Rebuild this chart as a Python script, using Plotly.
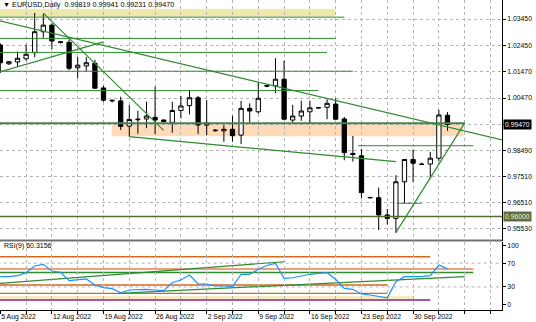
import plotly.graph_objects as go

# ---------------- data ----------------
bar_index = list(range(53))
opens = [1.0247, 1.0176, 1.0183, 1.0195, 1.0218, 1.0297, 1.0322, 1.0259, 1.0257, 1.0161,
         1.0168, 1.0178, 1.0085, 1.0036, 1.0036, 0.9941, 0.9965, 0.9968, 0.9974, 0.9964,
         0.9955, 1.0000, 1.0018, 1.0048, 0.9945, 0.9926, 0.9923, 0.9929, 0.9907, 1.0008,
         0.9995, 1.0094, 1.0093, 1.0118, 0.9964, 0.9979, 0.9995, 1.0010, 1.0012, 1.0024,
         0.9968, 0.9838, 0.9829, 0.9672, 0.9671, 0.9606, 0.9593, 0.9731, 0.9815, 0.9797,
         0.9798, 0.9820, 0.99819]
highs = [1.0253, 1.0187, 1.0222, 1.0248, 1.0368, 1.0364, 1.0329, 1.0262, 1.0268, 1.0202,
         1.0201, 1.0191, 1.0093, 1.0042, 1.0052, 1.0021, 0.9999, 1.0033, 1.0090, 0.9966,
         1.0033, 1.0055, 1.0077, 1.0055, 1.0039, 0.9930, 0.9945, 0.9980, 1.0036, 1.0027,
         1.0105, 1.0096, 1.0197, 1.0188, 1.0021, 1.0037, 1.0037, 1.0012, 1.0042, 1.0046,
         0.9976, 0.9904, 0.9855, 0.9674, 0.9709, 0.9628, 0.9756, 0.9816, 0.9853, 0.9803,
         0.9844, 1.0002, 0.99941]
lows = [1.0141, 1.0172, 1.0165, 1.0188, 1.0201, 1.0274, 1.0232, 1.0252, 1.0152, 1.0122,
        1.0149, 1.0081, 1.0033, 1.0030, 0.9926, 0.9901, 0.9912, 0.9933, 0.9911, 0.9955,
        0.9916, 0.9970, 0.9985, 0.9911, 0.9907, 0.9920, 0.9882, 0.9882, 0.9873, 0.9955,
        0.9988, 1.0088, 1.0065, 0.9966, 0.9955, 0.9961, 0.9952, 1.0008, 0.9967, 0.9965,
        0.9812, 0.9807, 0.9670, 0.9668, 0.9549, 0.9570, 0.9539, 0.9650, 0.9731, 0.9795,
        0.9742, 0.9808, 0.99231]
closes = [1.0180, 1.0184, 1.0197, 1.0212, 1.0297, 1.0322, 1.0262, 1.0257, 1.0159, 1.0171,
          1.0180, 1.0084, 1.0039, 1.0038, 0.9940, 0.9966, 0.9967, 0.9979, 0.9964, 0.9958,
          1.0000, 1.0017, 1.0048, 0.9945, 0.9953, 0.9924, 0.9929, 0.9905, 1.0008, 0.9998,
          1.0046, 1.0092, 1.0118, 0.9967, 0.9979, 0.9998, 1.0010, 1.0010, 1.0027, 0.9967,
          0.9841, 0.9834, 0.9690, 0.9671, 0.9606, 0.9593, 0.9731, 0.9815, 0.9801, 0.9797,
          0.9820, 0.9983, 0.99470]
rsi9 = [47.2, 47.2, 48.9, 54.0, 65.2, 68.0, 56.8, 54.6, 40.5, 41.7,
        43.4, 33.3, 28.8, 27.1, 20.3, 24.9, 26.0, 26.0, 24.9, 23.7,
        37.2, 41.7, 50.1, 35.0, 35.0, 31.6, 31.6, 30.4, 51.3, 51.3,
        59.7, 66.0, 69.7, 44.5, 45.5, 48.4, 51.3, 52.9, 54.0, 42.9,
        27.7, 26.0, 18.2, 16.5, 13.6, 11.9, 38.8, 47.2, 47.2, 47.2,
        48.9, 66.9, 60.3156]

date_tick_bars = [0, 6, 12, 18, 24, 30, 36, 42, 48]
date_tick_labels = ['5 Aug 2022', '12 Aug 2022', '19 Aug 2022', '26 Aug 2022', '2 Sep 2022',
                    '9 Sep 2022', '16 Sep 2022', '23 Sep 2022', '30 Sep 2022']
price_grid = [1.0345, 1.0245, 1.0147, 1.0047, 0.9947, 0.9849, 0.9751, 0.9651, 0.9553]
rsi_ticks = [0, 30, 70, 100]
rsi_levels = [30, 70]
support_level = 0.9600

# analyst drawings (price / bar-index coordinates)
hline_values = [1.0352, 1.0272, 1.0219, 1.0148, 1.0075, 0.9952, 0.9867, 0.9650]
hline_from = [-1, -1, -1, -1, -1, -1, 41.6, 46.1]
hline_to = [40, 39, 38, 41, 37, 54, 55, 49]
trend_from_bar = [-1, 5, -1, 15, 46]
trend_from_val = [1.0345, 1.0367, 1.01366, 0.9901, 0.9539]
trend_to_bar = [60, 19, 12, 46, 54]
trend_to_val = [0.98759, 0.9925, 1.0259, 0.9807, 0.9952]
zone_from_bar = [-1, 12.95]
zone_to_bar = [38.9, 53.8]
zone_low = [1.0354, 0.9903]
zone_high = [1.0383, 0.9948]

rsi_hline_values = [80.8, 60.2, 54.3, 33.3, 19.3, 8.1]
rsi_hline_to = [50, 55, 55, 45, 45, 50]
rsi_zone = (9.7, 14.8, 48)
rsi_trend_from = [(-1, 35.0), (13.7, 19.3)]
rsi_trend_to = [(33, 72.4), (54, 47.2)]

# ---------------- styling ----------------
FONT = 'Liberation Sans, Arial, sans-serif'
GREEN = '#2E8B2E'
GRID = '#b4b4b4'
hline_colors = [GREEN, GREEN, GREEN, GREEN, GREEN, '#4F7F4F', GREEN, GREEN]
hline_widths = [1, 1, 1, 1, 1, 2, 1, 1]
zone_colors = ['#EEE8AA', '#FFDAB9']
rsi_hline_colors = ['#D2691E', '#E9804F', GREEN, '#D2691E', '#C0703F', '#8B1C8B']

W, H = 536, 322
ML, MR, MT, MB = 0, 34, 0, 12
PH = H - MT - MB
main_bottom_px = 240.5
rsi_top_px = 241.5

X_RANGE = [-0.035, 58.34]
Y_RANGE = [0.95095, 1.04167]
R_RANGE = [-8.74, 106.4]

fig = go.Figure()
fig.add_trace(go.Candlestick(
    x=bar_index, open=opens, high=highs, low=lows, close=closes,
    increasing=dict(line=dict(color='black', width=1), fillcolor='white'),
    decreasing=dict(line=dict(color='black', width=1), fillcolor='black'),
    whiskerwidth=0, xaxis='x', yaxis='y', showlegend=False, hoverinfo='skip'))
fig.add_trace(go.Scatter(
    x=bar_index, y=rsi9, mode='lines', line=dict(color='#1E90FF', width=1.2),
    xaxis='x2', yaxis='y2', showlegend=False, hoverinfo='skip'))

shapes = []
for x0, x1, lo, hi, c in zip(zone_from_bar, zone_to_bar, zone_low, zone_high, zone_colors):
    shapes.append(dict(type='rect', xref='x', yref='y', x0=x0, x1=x1, y0=lo, y1=hi,
                       fillcolor=c, line=dict(width=0), layer='below'))
for v, x0, x1, c, w in zip(hline_values, hline_from, hline_to, hline_colors, hline_widths):
    shapes.append(dict(type='line', xref='x', yref='y', x0=x0, x1=x1, y0=v, y1=v,
                       line=dict(color=c, width=w), layer='above'))
shapes.append(dict(type='line', xref='x', yref='y', x0=-1, x1=60, y0=support_level, y1=support_level,
                   line=dict(color='#556B2F', width=1.5), layer='above'))
for xa, ya, xb, yb in zip(trend_from_bar, trend_from_val, trend_to_bar, trend_to_val):
    shapes.append(dict(type='line', xref='x', yref='y', x0=xa, x1=xb, y0=ya, y1=yb,
                       line=dict(color=GREEN, width=1.2), layer='above'))
# RSI panel drawings
shapes.append(dict(type='rect', xref='x2', yref='y2', x0=-1, x1=rsi_zone[2], y0=rsi_zone[0], y1=rsi_zone[1],
                   fillcolor='#F5EBC0', line=dict(width=0), layer='below'))
for lv in rsi_levels:
    shapes.append(dict(type='line', xref='x2', yref='y2', x0=-1, x1=60, y0=lv, y1=lv,
                       line=dict(color=GRID, width=1, dash='dot'), layer='below'))
for v, x1, c in zip(rsi_hline_values, rsi_hline_to, rsi_hline_colors):
    shapes.append(dict(type='line', xref='x2', yref='y2', x0=-1, x1=x1, y0=v, y1=v,
                       line=dict(color=c, width=1.3), layer='below'))
for (xa, ya), (xb, yb) in zip(rsi_trend_from, rsi_trend_to):
    shapes.append(dict(type='line', xref='x2', yref='y2', x0=xa, x1=xb, y0=ya, y1=yb,
                       line=dict(color=GREEN, width=1.2), layer='below'))
# panel separator
shapes.append(dict(type='rect', xref='paper', yref='paper', x0=0, x1=1,
                   y0=(PH - rsi_top_px) / PH, y1=(PH - main_bottom_px + 1) / PH,
                   fillcolor='#707070', line=dict(width=0), layer='above'))

annotations = [
    dict(xref='paper', yref='paper', x=0.002, y=1 - 5 / PH, xanchor='left', yanchor='middle',
         text='▼ EURUSD,Daily  %.5f %.5f %.5f %.5f' % (opens[-1], highs[-1], lows[-1], closes[-1]),
         showarrow=False, font=dict(family=FONT, size=7.2, color='black')),
    dict(xref='paper', yref='paper', x=0.004, y=(PH - 246) / PH, xanchor='left', yanchor='middle',
         text='RSI(9) %.4f' % rsi9[-1], showarrow=False, font=dict(family=FONT, size=7.0, color='black')),
    dict(xref='paper', yref='y', x=1, y=closes[-1], xanchor='left', yanchor='middle', xshift=1,
         text='%.5f' % closes[-1], showarrow=False, bgcolor='black', borderpad=1,
         font=dict(family=FONT, size=6.8, color='white')),
    dict(xref='paper', yref='y', x=1, y=support_level, xanchor='left', yanchor='middle', xshift=1,
         text='%.5f' % support_level, showarrow=False, bgcolor='#5E6E3E', borderpad=1,
         font=dict(family=FONT, size=6.8, color='#F0F0D0')),
]

grid_ticks = list(range(0, 59, 3))
grid_text = [date_tick_labels[date_tick_bars.index(b)] if b in date_tick_bars else '' for b in grid_ticks]

fig.update_layout(
    width=W, height=H, margin=dict(l=ML, r=MR, t=MT, b=MB),
    paper_bgcolor='white', plot_bgcolor='white', showlegend=False, hovermode=False,
    boxgap=0.5, boxgroupgap=0,
    font=dict(family=FONT, size=6.8, color='black'),
    xaxis=dict(domain=[0, 1], range=X_RANGE, anchor='y', showticklabels=False,
               tickvals=grid_ticks, showgrid=True, gridcolor=GRID, griddash='dot', gridwidth=1,
               zeroline=False, rangeslider=dict(visible=False), ticks=''),
    yaxis=dict(domain=[(PH - main_bottom_px) / PH, 1], range=Y_RANGE, anchor='x', side='right',
               tickvals=price_grid,
               ticktext=['' if abs(v - closes[-1]) < 1e-9 else '%.5f' % v for v in price_grid],
               showgrid=True, gridcolor=GRID, griddash='dot', zeroline=False,
               ticks='outside', ticklen=3, tickcolor='black', showline=True, linecolor='black',
               linewidth=1, tickfont=dict(family=FONT, size=6.8)),
    xaxis2=dict(domain=[0, 1], range=X_RANGE, anchor='y2', tickvals=grid_ticks, ticktext=grid_text,
                ticklabelposition='outside right', ticks='outside', ticklen=3, tickcolor='black',
                showgrid=True, gridcolor=GRID, griddash='dot', zeroline=False,
                showline=True, linecolor='black', linewidth=1, tickfont=dict(family=FONT, size=6.8)),
    yaxis2=dict(domain=[0, (PH - rsi_top_px) / PH], range=R_RANGE, anchor='x2', side='right',
                tickvals=rsi_ticks, ticktext=[str(t) for t in rsi_ticks], showgrid=False, zeroline=False,
                ticks='outside', ticklen=3, tickcolor='black', showline=True, linecolor='black',
                linewidth=1, tickfont=dict(family=FONT, size=6.8)),
    shapes=shapes, annotations=annotations,
)

fig.write_html('out.html')
